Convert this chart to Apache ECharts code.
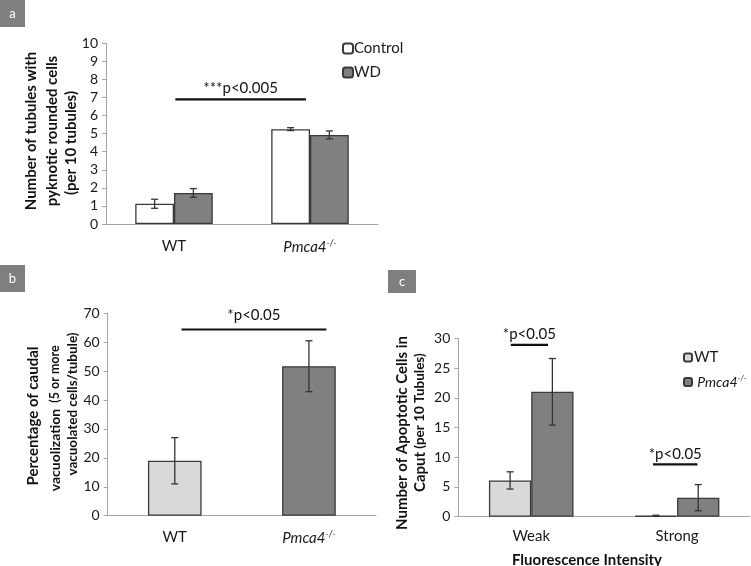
<!DOCTYPE html>
<html><head><meta charset="utf-8">
<script src="https://cdn.jsdelivr.net/npm/echarts@6/dist/echarts.min.js"></script>
<style>html,body{margin:0;padding:0;background:#fff}#c{width:751px;height:566px}</style>
</head><body><div id="c"></div>
<script>
// ---- data ----
const catsA = ['WT', 'Pmca4'];
const controlA = [1.12, 5.25];
const controlErrA = [0.25, 0.08];
const wdA = [1.72, 4.93];
const wdErrA = [0.24, 0.22];
const sigA = [[0.01, 0.97, 6.9, '***p<0.005']];

const catsB = ['WT', 'Pmca4'];
const valsB = [19, 51.7];
const errB = [8, 8.8];
const sigB = [[0.05, 1.13, 64.4, '*p<0.05']];

const catsC = ['Weak', 'Strong'];
const wtC = [6.1, 0.15];
const wtErrC = [1.45, 0.1];
const pmC = [21.0, 3.2];
const pmErrC = [5.6, 2.2];
const sigC = [[-0.14, 0.115, 28.9, '*p<0.05'], [0.835, 1.14, 8.8, '*p<0.05']];

const FONT = 'Lato';
const AX = '#a6a6a6';
const TXT = '#1a1a1a';

function catFmt(v){ return v === 'Pmca4' ? '{i|Pmca4}{s|-/-}' : v; }
const catRich = { i:{fontStyle:'italic', fontSize:15, fontFamily:FONT, color:TXT}, s:{fontStyle:'italic', fontSize:9, fontFamily:FONT, color:TXT, verticalAlign:'top', padding:[0,0,8,0]} };

function errSeries(xi, data, errs, frac){
  return {
    type:'custom', xAxisIndex:xi, yAxisIndex:xi, z:5,
    data: data.map((v,i)=>[i, v, errs[i]]),
    encode:{x:0, y:1},
    renderItem:function(params, api){
      const band = api.size([1,0])[0];
      const off = frac*band;
      const c = api.value(0), m = api.value(1), e = api.value(2);
      const top = api.coord([c, m+e]);
      const bot = api.coord([c, m-e]);
      const x = top[0] + off;
      const cap = 3.5;
      const st = {stroke:'#333', lineWidth:1.3};
      return {type:'group', children:[
        {type:'line', shape:{x1:x, y1:top[1], x2:x, y2:bot[1]}, style:st},
        {type:'line', shape:{x1:x-cap, y1:top[1], x2:x+cap, y2:top[1]}, style:st},
        {type:'line', shape:{x1:x-cap, y1:bot[1], x2:x+cap, y2:bot[1]}, style:st}
      ]};
    }
  };
}
function yAx(gi, max, interval){
  return {type:'value', gridIndex:gi, min:0, max:max, interval:interval,
    axisLine:{show:true, lineStyle:{color:AX}}, axisTick:{show:true, length:4, lineStyle:{color:AX}},
    splitLine:{show:false}, axisLabel:{color:TXT, fontSize:14, fontFamily:FONT, margin:8}};
}
function xAx(gi, cats, margin){
  return {type:'category', gridIndex:gi, data:cats,
    axisLine:{lineStyle:{color:AX}}, axisTick:{length:5, lineStyle:{color:AX}},
    axisLabel:{color:TXT, fontSize:15, fontFamily:FONT, margin:margin, formatter:catFmt, rich:catRich}};
}
function box(x,y,w,h,t){
  return [{type:'rect', shape:{x:x,y:y,width:w,height:h}, style:{fill:'#7f7f7f'}},
          {type:'text', x:x+w/2, y:y+h/2, style:{text:t, fill:'#fff', font:'13px '+FONT, textAlign:'center', textVerticalAlign:'middle'}}];
}
function vtext(x,y,size,text){
  return {type:'text', x:x, y:y, rotation:Math.PI/2, style:{text:text, textAlign:'center', textVerticalAlign:'middle', fill:'#111', font:'bold '+size+'px '+FONT}};
}

const barBorder = {borderColor:'#3a3a3a', borderWidth:1.3};
const chart = echarts.init(document.getElementById('c'));
chart.setOption({
  animation:false,
  grid:[
    {left:106, right:373, top:43.3, bottom:342},
    {left:107.7, right:375, top:313.3, bottom:50.3},
    {left:458.3, right:1, top:338.3, bottom:49.3}
  ],
  xAxis:[xAx(0, catsA, 15), xAx(1, catsB, 14), xAx(2, catsC, 12)],
  yAxis:[yAx(0,10,1), yAx(1,70,10), yAx(2,30,5)],
  legend:[
    {data:['Control','WD'], orient:'vertical', left:337, top:36, itemWidth:10, itemHeight:10, itemGap:9,
     textStyle:{fontSize:15, fontFamily:FONT, color:TXT, padding:[0,0,0,-4]}},
    {data:['WT ','Pmca4-/-'], orient:'vertical', left:678, top:345, itemWidth:8, itemHeight:8, itemGap:9,
     formatter:function(n){return n==='Pmca4-/-' ? '{i| Pmca4}{s|-/-}' : n;},
     textStyle:{fontSize:15, fontFamily:FONT, color:TXT, padding:[0,0,0,-3], rich:{
       i:{fontStyle:'italic', fontSize:14, fontFamily:FONT, color:TXT},
       s:{fontStyle:'italic', fontSize:8, fontFamily:FONT, color:TXT, verticalAlign:'top', padding:[0,0,8,0]}}}}
  ],
  series:[
    {name:'Control', type:'bar', xAxisIndex:0, yAxisIndex:0, data:controlA, barWidth:'28.5%', barGap:'0%', itemStyle:Object.assign({color:'#ffffff'}, barBorder)},
    {name:'WD', type:'bar', xAxisIndex:0, yAxisIndex:0, data:wdA, barWidth:'28.5%', barGap:'0%', itemStyle:Object.assign({color:'#808080'}, barBorder)},
    errSeries(0, controlA, controlErrA, -0.1425),
    errSeries(0, wdA, wdErrA, 0.1425),

    {name:'B', type:'bar', xAxisIndex:1, yAxisIndex:1, data:valsB.map((v,i)=>({value:v, itemStyle:{color: i===0?'#d9d9d9':'#808080'}})), barWidth:'40%', itemStyle:barBorder},
    errSeries(1, valsB, errB, 0),

    {name:'WT ', type:'bar', xAxisIndex:2, yAxisIndex:2, data:wtC, barWidth:'29%', barGap:'0%', itemStyle:Object.assign({color:'#d9d9d9'}, barBorder)},
    {name:'Pmca4-/-', type:'bar', xAxisIndex:2, yAxisIndex:2, data:pmC, barWidth:'29%', barGap:'0%', itemStyle:Object.assign({color:'#808080'}, barBorder)},
    errSeries(2, wtC, wtErrC, -0.145),
    errSeries(2, pmC, pmErrC, 0.145)
  ]
});

// significance brackets, positioned through the chart's own axes
// (category positions given as fractional indices, interpolated between category centres)
function sigGraphics(gi, sig, gap){
  const out = [];
  sig.forEach(function(d){
    const c0 = chart.convertToPixel({gridIndex:gi}, [0, d[2]]);
    const c1 = chart.convertToPixel({gridIndex:gi}, [1, d[2]]);
    const band = c1[0] - c0[0];
    const xa = c0[0] + d[0]*band, xb = c0[0] + d[1]*band, y = c0[1];
    out.push({type:'line', z:20, shape:{x1:xa, y1:y, x2:xb, y2:y}, style:{stroke:'#111', lineWidth:2.2}});
    out.push({type:'text', z:20, x:(xa+xb)/2, y:y-gap, style:{text:d[3], fill:'#111', font:'15px '+FONT, textAlign:'center', textVerticalAlign:'bottom'}});
  });
  return out;
}

chart.setOption({
  graphic:[].concat(
    box(0,0,25,27,'a'), box(0,265,25,27,'b'), box(388,270,28,23,'c'),
    sigGraphics(0, sigA, 4), sigGraphics(1, sigB, 7), sigGraphics(2, sigC, 3),
    [
      vtext(31, 131, 15, 'Number of tubules with'),
      vtext(52.5, 131, 15, 'pyknotic rounded cells'),
      vtext(71, 143, 15, '(per 10 tubules)'),
      vtext(33, 416, 15, 'Percentage of caudal'),
      vtext(55, 450, 14, 'vacuolization'),
      vtext(55, 374, 12.5, '(5 or more'),
      vtext(73, 404, 13.5, 'vacuolated cells/tubule)'),
      vtext(402, 433, 15, 'Number of Apoptotic Cells in'),
      vtext(420, 472, 15, 'Caput'),
      vtext(420, 401, 13.5, '(per 10 Tubules)'),
      {type:'text', x:587, y:560, style:{text:'Fluorescence Intensity', fill:'#111', font:'bold 15px '+FONT, textAlign:'center', textVerticalAlign:'middle'}}
    ]
  )
});
</script></body></html>
